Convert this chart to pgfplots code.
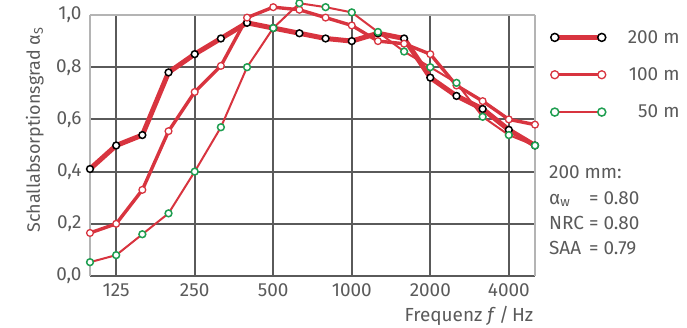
\documentclass[border=0pt]{standalone}
\usepackage{pgfplots}
\pgfplotsset{compat=1.18}
\usepackage{fontspec}
\setmainfont{Fira Sans}
\definecolor{lred}{HTML}{D8343F}
\definecolor{tgray}{HTML}{5A5A5A}
\definecolor{ggreen}{HTML}{1E9E50}
\definecolor{gridc}{HTML}{5A5A5A}
\definecolor{framec}{HTML}{B4B4B4}
\begin{document}
\begin{tikzpicture}
\useasboundingbox (0bp,0bp) rectangle (687bp,328bp);
\begin{axis}[
  at={(90bp,52bp)}, anchor=south west, scale only axis,
  width=445bp, height=261bp,
  xmin=0, xmax=17, ymin=0, ymax=1, clip=false,
  axis x line*=bottom, axis y line*=box,
  x axis line style={-, gridc, line width=2bp},
  y axis line style={-, framec, line width=1.3bp},
  xtick={1,4,7,10,13,16},
  xticklabels={125,250,500,1000,2000,4000},
  ytick={0,0.2,0.4,0.6,0.8},
  extra y ticks={1},
  extra y tick style={grid=major, major grid style={framec, line width=1.3bp}},
  grid=major,
  major grid style={gridc, line width=1.9bp},
  major tick length=0pt,
  /pgf/number format/.cd, fixed, fixed zerofill, precision=1, use comma, assume math mode=true,
  /pgfplots/.cd,
  tick label style={font=\fontsize{19}{22}\selectfont, text=tgray},
  yticklabel style={xshift=-5bp},
  xticklabel style={yshift=-4bp},
  xlabel={Frequenz \textit{f}\,/\,Hz},
  xlabel style={at={(axis description cs:1.004,-0.153)}, anchor=east, font=\fontsize{19}{22}\selectfont, text=tgray},
  ylabel={Schallabsorptionsgrad α\textsubscript{S}},
  ylabel style={at={(axis description cs:-0.124,0.56)}, anchor=center, rotate=0, font=\fontsize{18}{21}\selectfont, text=tgray},
  legend image code/.code={\draw[#1, mark repeat=1, mark size=4bp] plot coordinates {(0bp,0bp) (47bp,0bp)};},
  legend cell align=right,
  legend style={at={(axis description cs:1.035,0.950)}, anchor=north west, draw=none, fill=none,
    font=\fontsize{19}{22}\selectfont, text=tgray, row sep=19bp, inner sep=0pt,
    /tikz/every odd column/.append style={column sep=20bp}},
]
\addplot[lred, line width=5bp, mark=*, mark size=3.4bp, mark options={draw=black, fill=white, line width=1.5bp}]
 coordinates {(0,0.41)(1,0.50)(2,0.54)(3,0.78)(4,0.85)(5,0.91)(6,0.97)(7,0.95)(8,0.93)(9,0.91)(10,0.90)(11,0.93)(12,0.91)(13,0.76)(14,0.69)(15,0.64)(16,0.56)(17,0.50)};
\addlegendentry{200 m}
\addplot[lred, line width=3.4bp, mark=*, mark size=3.4bp, mark options={draw=lred, fill=white, line width=1.3bp}]
 coordinates {(0,0.165)(1,0.20)(2,0.33)(3,0.555)(4,0.705)(5,0.805)(6,0.99)(7,1.03)(8,1.02)(9,0.99)(10,0.96)(11,0.90)(12,0.89)(13,0.85)(14,0.73)(15,0.67)(16,0.60)(17,0.58)};
\addlegendentry{100 m}
\addplot[lred, line width=2bp, mark=*, mark size=3.4bp, mark options={draw=ggreen, fill=white, line width=1.5bp}]
 coordinates {(0,0.053)(1,0.08)(2,0.16)(3,0.24)(4,0.40)(5,0.57)(6,0.80)(7,0.95)(8,1.045)(9,1.03)(10,1.01)(11,0.935)(12,0.86)(13,0.80)(14,0.74)(15,0.61)(16,0.54)(17,0.50)};
\addlegendentry{50 m}
\node[anchor=north west, text=tgray, font=\fontsize{19}{25.5}\selectfont, inner sep=0pt] at (axis description cs:1.0315,0.442)
 {\begin{tabular}{@{}l@{\ }l@{}}
 \multicolumn{2}{@{}l}{200 mm:}\\
 α\textsubscript{w} & = 0.80\\
 NRC & = 0.80\\
 SAA & = 0.79
 \end{tabular}};
\end{axis}
\end{tikzpicture}
\end{document}
